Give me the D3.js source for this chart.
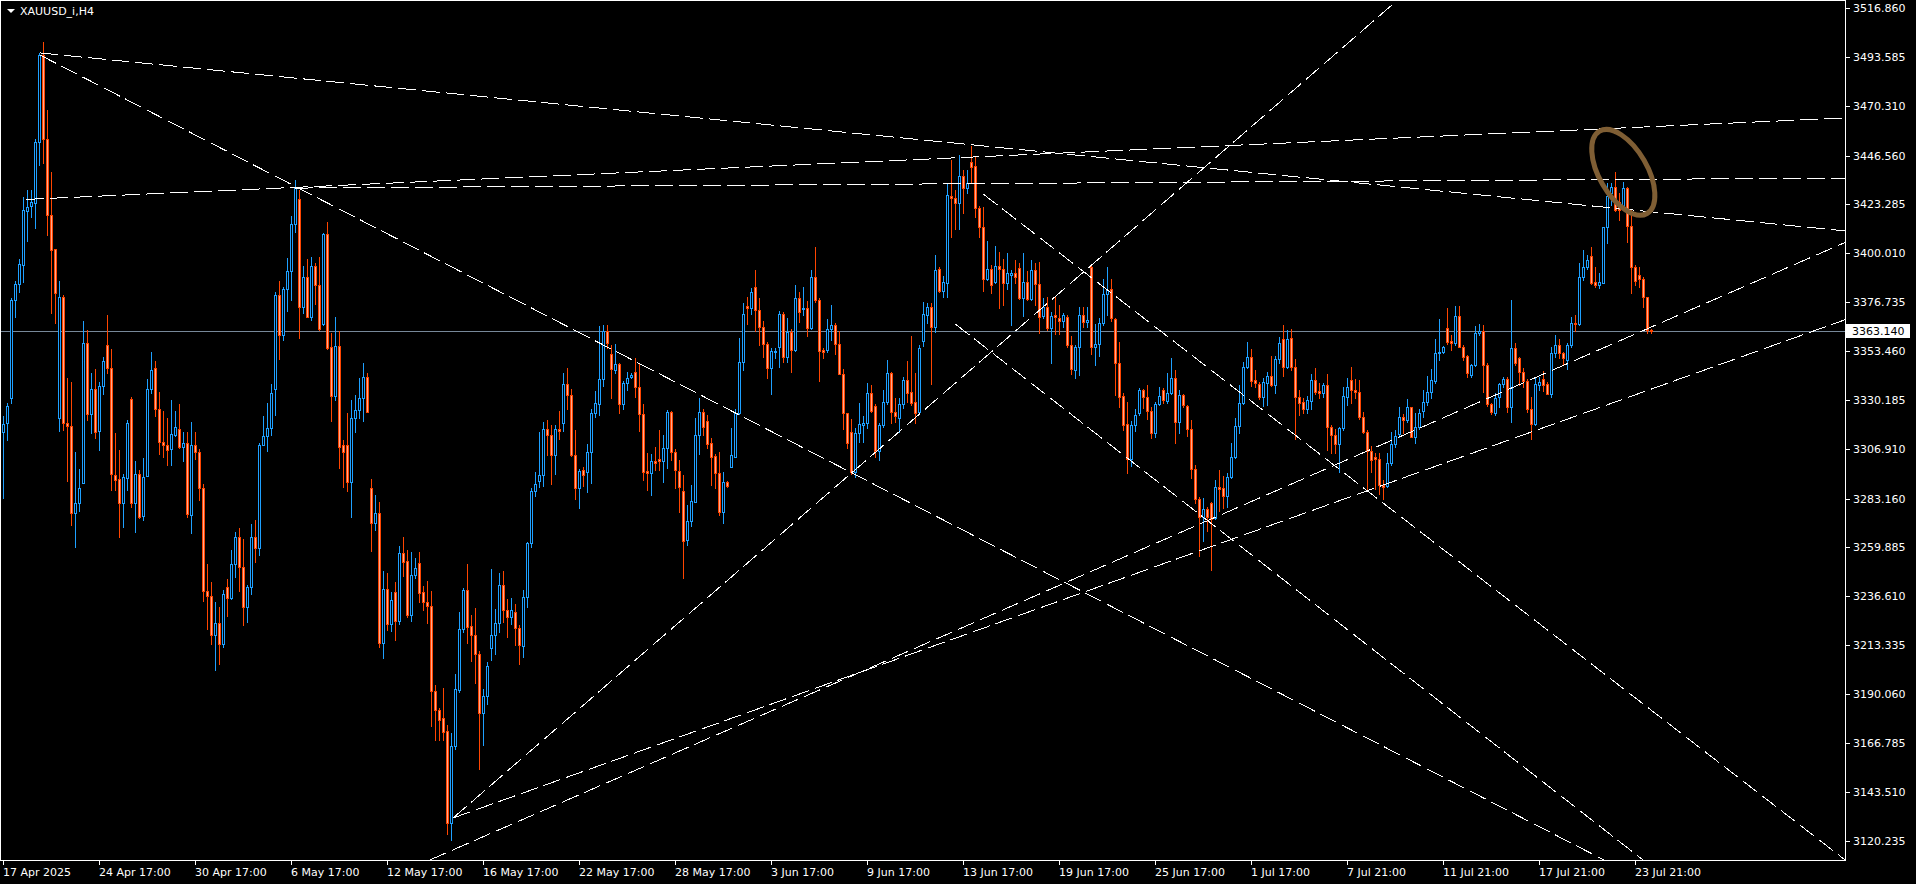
<!DOCTYPE html>
<html><head><meta charset="utf-8">
<script src="https://cdn.jsdelivr.net/npm/d3@7"></script>
<style>
html,body{margin:0;padding:0;background:#000;overflow:hidden}
svg{display:block}
</style></head><body>
<svg id="chart" width="1916" height="884"></svg>
<script>
const symbolTitle = "XAUUSD_i,H4";
const bidPrice = 3363.140;

const opens = [
3315.0,3319.4,3331.4,3377.8,3385.4,3394.8,3420.5,3422.7,3424.1,3453.3,
3494.8,3454.9,3418.7,3402.3,3321.9,3379.2,3319.4,3317.8,3276.3,3281.5,
3290.9,3357.5,3323.9,3335.4,3315.4,3336.8,3356.5,3345.8,3294.7,3292.7,
3281.1,3293.3,3330.8,3281.5,3295.3,3274.9,3293.9,3335.6,3345.4,3325.9,
3310.1,3309.1,3307.1,3313.5,3316.6,3307.9,3309.9,3275.5,3309.1,3305.6,
3288.2,3239.2,3236.8,3218.6,3224.0,3214.3,3241.1,3236.0,3252.1,3265.3,
3250.7,3231.7,3241.2,3264.9,3259.8,3308.9,3313.3,3317.2,3335.8,3380.6,
3361.2,3383.1,3392.0,3414.1,3425.9,3374.6,3388.9,3370.1,3394.1,3385.2,
3366.6,3409.4,3355.6,3332.1,3356.2,3308.7,3308.7,3291.2,3321.7,3325.7,
3331.2,3341.2,3288.5,3271.9,3276.3,3214.7,3240.3,3223.4,3239.1,3225.1,
3257.3,3253.4,3227.7,3247.2,3252.5,3239.1,3234.0,3232.2,3191.7,3182.6,
3178.7,3172.8,3128.9,3165.3,3192.0,3221.2,3239.9,3222.7,3218.2,3209.2,
3181.0,3189.5,3212.0,3218.2,3224.0,3242.0,3230.2,3226.8,3229.2,3221.5,
3213.3,3236.3,3262.0,3286.8,3291.6,3294.5,3316.3,3313.5,3304.0,3316.3,
3319.6,3337.9,3332.6,3304.3,3288.3,3297.0,3295.8,3305.5,3324.0,3328.6,
3340.4,3363.1,3352.2,3344.5,3347.3,3328.6,3338.5,3341.2,3343.7,3336.3,
3323.5,3296.5,3295.4,3301.3,3302.2,3301.4,3307.3,3324.5,3305.4,3296.7,
3287.0,3263.6,3272.7,3281.9,3313.7,3324.5,3320.3,3309.7,3303.7,3295.4,
3276.8,3291.1,3298.6,3303.4,3324.0,3348.3,3375.1,3374.3,3384.0,3373.2,
3365.3,3356.9,3345.8,3353.1,3355.8,3371.2,3351.0,3362.9,3354.2,3379.1,
3373.5,3374.0,3364.5,3388.8,3378.0,3354.2,3354.2,3364.2,3366.1,3356.9,
3342.6,3324.0,3315.3,3295.9,3314.8,3318.4,3319.2,3333.5,3327.5,3306.2,
3318.4,3329.6,3343.4,3324.8,3321.6,3328.5,3339.9,3334.0,3329.2,3324.8,
3358.6,3370.8,3374.8,3365.3,3392.6,3382.4,3386.2,3427.5,3426.4,3424.4,
3437.2,3431.2,3443.6,3441.8,3421.7,3412.6,3388.0,3392.6,3386.7,3394.2,
3392.6,3385.9,3390.1,3390.7,3393.1,3378.8,3386.4,3378.3,3392.3,3385.6,
3370.5,3374.5,3364.5,3370.9,3369.3,3368.2,3369.7,3356.6,3344.6,3355.7,
3370.8,3367.7,3393.6,3355.4,3356.9,3366.9,3380.8,3383.1,3368.8,3347.8,
3332.2,3318.9,3302.1,3318.4,3324.3,3335.1,3331.6,3325.3,3314.5,3328.4,
3335.1,3330.0,3333.8,3340.7,3320.0,3332.7,3327.5,3316.4,3297.3,3283.0,
3274.5,3278.3,3281.4,3274.0,3289.1,3288.3,3284.6,3293.8,3303.0,3318.0,
3328.8,3346.2,3350.7,3339.9,3338.0,3331.9,3338.6,3341.8,3337.5,3349.7,
3359.2,3345.9,3359.7,3345.9,3331.6,3329.2,3325.9,3330.0,3339.9,3334.8,
3333.8,3337.5,3317.3,3313.7,3309.4,3316.9,3331.9,3339.9,3335.1,3334.3,
3322.1,3315.3,3306.2,3303.0,3302.1,3289.9,3289.4,3300.2,3309.4,3314.1,
3322.1,3320.8,3326.9,3312.9,3317.3,3325.3,3329.6,3334.3,3339.6,3352.6,
3353.4,3364.5,3358.6,3357.7,3370.4,3355.8,3351.3,3342.3,3347.0,3362.1,
3363.4,3347.0,3328.4,3324.0,3331.6,3338.0,3340.2,3326.9,3355.0,3350.2,
3343.8,3339.6,3325.9,3318.9,3337.5,3340.4,3338.0,3333.2,3352.6,3356.5,
3352.6,3349.4,3356.5,3366.9,3366.6,3388.8,3393.5,3398.9,3386.6,3385.1,
3386.2,3412.6,3429.1,3431.7,3424.8,3421.2,3431.2,3413.2,3393.5,3389.9,
3387.8,3379.3,3363.5];

const highs = [
3322.9,3328.9,3379.0,3387.1,3397.6,3427.0,3430.6,3430.6,3454.9,3495.8,
3500.7,3468.5,3438.9,3402.3,3387.1,3380.2,3340.7,3339.1,3305.8,3297.3,
3368.0,3363.6,3343.1,3345.1,3338.7,3350.6,3370.7,3354.5,3314.6,3306.6,
3295.3,3321.0,3332.0,3301.2,3296.9,3302.8,3340.3,3353.2,3349.0,3334.2,
3325.3,3322.0,3330.2,3325.3,3328.5,3315.0,3315.0,3319.8,3315.0,3307.1,
3290.4,3252.2,3243.6,3234.1,3231.7,3239.9,3244.9,3258.9,3267.4,3269.3,
3264.3,3242.0,3271.3,3273.0,3309.8,3322.8,3329.0,3338.1,3381.7,3386.8,
3384.1,3398.0,3418.2,3435.2,3430.6,3394.1,3397.6,3398.6,3395.5,3398.6,
3410.0,3415.1,3362.4,3369.7,3363.1,3311.4,3324.2,3330.4,3332.5,3340.7,
3348.0,3343.2,3292.6,3285.0,3281.7,3248.8,3247.8,3239.1,3243.6,3261.0,
3265.3,3258.7,3258.1,3255.0,3257.7,3241.6,3244.0,3239.2,3194.5,3183.8,
3193.2,3175.6,3171.8,3199.7,3229.2,3241.0,3252.2,3228.1,3231.4,3210.9,
3192.8,3205.6,3249.9,3230.9,3247.8,3248.9,3235.5,3236.0,3233.0,3223.2,
3239.6,3262.5,3288.3,3296.1,3315.2,3319.9,3320.7,3318.3,3318.3,3325.2,
3343.4,3345.7,3335.8,3316.2,3297.5,3298.6,3309.3,3326.2,3334.7,3365.5,
3365.9,3365.9,3356.5,3356.8,3347.8,3339.6,3343.7,3343.2,3350.3,3347.8,
3328.4,3304.9,3304.5,3308.1,3316.1,3313.7,3325.6,3325.3,3307.0,3301.8,
3294.6,3280.3,3289.9,3321.9,3331.1,3326.1,3323.2,3312.4,3304.5,3305.7,
3296.2,3291.8,3317.2,3326.1,3359.7,3376.7,3379.2,3383.5,3392.3,3378.8,
3368.0,3357.8,3355.0,3355.3,3372.8,3372.4,3369.6,3364.2,3385.1,3382.0,
3384.3,3377.5,3392.3,3403.0,3379.1,3355.3,3369.0,3375.6,3366.9,3363.2,
3345.1,3324.0,3321.1,3316.9,3328.8,3322.7,3338.3,3337.5,3328.4,3319.6,
3335.1,3349.4,3343.9,3331.2,3331.2,3341.2,3349.1,3360.8,3343.1,3356.6,
3377.2,3376.4,3376.4,3399.4,3393.6,3389.4,3433.6,3444.7,3430.4,3447.1,
3439.9,3439.9,3451.4,3446.3,3422.8,3422.5,3406.1,3394.7,3403.7,3401.0,
3397.4,3400.2,3392.3,3397.1,3395.5,3400.2,3391.9,3397.1,3395.8,3396.3,
3378.8,3379.6,3372.4,3379.9,3375.6,3372.0,3370.9,3360.8,3356.5,3374.8,
3374.8,3374.5,3395.1,3366.5,3369.2,3387.8,3393.9,3387.8,3369.2,3358.1,
3333.8,3329.5,3320.5,3325.9,3335.9,3335.4,3337.5,3327.2,3329.5,3336.4,
3335.9,3343.0,3350.2,3344.6,3335.1,3333.2,3328.0,3320.8,3299.4,3284.3,
3283.5,3279.2,3281.9,3292.0,3297.0,3294.1,3295.4,3309.7,3321.6,3337.5,
3348.6,3358.1,3354.5,3344.6,3339.1,3340.7,3343.8,3351.3,3351.3,3360.2,
3366.1,3363.7,3364.0,3350.0,3335.1,3331.1,3332.2,3342.7,3345.4,3338.3,
3338.3,3342.7,3318.4,3316.4,3317.3,3336.4,3340.7,3346.2,3340.2,3339.9,
3324.8,3316.1,3308.4,3305.2,3304.9,3292.2,3305.2,3315.3,3316.1,3326.9,
3323.7,3330.7,3327.2,3324.0,3325.9,3335.1,3341.8,3344.9,3359.3,3368.8,
3356.1,3374.0,3361.3,3375.1,3375.1,3356.5,3351.8,3347.5,3365.6,3366.6,
3366.1,3347.8,3328.8,3333.8,3338.6,3341.2,3341.2,3378.0,3357.7,3350.7,
3345.4,3340.2,3331.9,3341.2,3341.2,3344.3,3339.1,3355.8,3361.3,3359.2,
3353.4,3357.7,3370.0,3370.8,3395.5,3401.8,3399.4,3403.1,3393.6,3390.7,
3412.9,3433.6,3433.6,3439.1,3429.1,3434.4,3432.0,3420.9,3394.7,3393.9,
3389.1,3379.6,3364.3];

const lows = [
3283.8,3311.1,3328.9,3369.8,3381.8,3386.5,3405.9,3417.4,3412.2,3442.4,
3443.4,3408.9,3371.9,3366.8,3315.6,3316.0,3291.9,3271.0,3260.1,3277.5,
3290.9,3321.0,3314.6,3312.1,3306.7,3333.2,3343.1,3287.4,3287.4,3265.3,
3270.0,3287.4,3279.5,3267.6,3274.2,3273.1,3293.9,3333.6,3322.9,3304.8,
3303.2,3299.6,3299.6,3313.1,3307.6,3301.2,3274.6,3267.2,3302.2,3282.9,
3234.5,3221.4,3214.3,3201.5,3204.8,3212.6,3227.5,3235.4,3246.1,3239.5,
3223.0,3224.4,3237.9,3253.0,3256.7,3308.9,3306.0,3313.9,3323.4,3350.0,
3358.7,3372.8,3377.9,3410.4,3360.0,3371.7,3369.7,3368.6,3376.3,3363.9,
3366.2,3354.8,3320.1,3330.4,3297.8,3288.7,3287.0,3274.6,3315.1,3321.7,
3320.5,3324.6,3258.5,3268.4,3212.6,3207.5,3220.9,3220.5,3215.8,3223.4,
3246.7,3227.1,3225.1,3245.7,3234.3,3230.2,3224.2,3174.8,3168.2,3168.2,
3168.2,3123.6,3120.6,3164.1,3191.2,3219.9,3214.6,3205.9,3195.3,3154.3,
3165.8,3185.4,3206.3,3209.2,3219.9,3224.8,3217.4,3223.7,3213.8,3204.8,
3208.1,3231.9,3260.4,3284.7,3288.8,3289.3,3304.0,3290.4,3295.3,3311.7,
3315.8,3326.0,3303.5,3283.0,3278.9,3289.3,3286.6,3290.9,3322.4,3323.2,
3336.8,3355.2,3331.4,3343.4,3324.0,3326.2,3335.2,3340.8,3331.7,3315.8,
3292.2,3287.5,3285.1,3297.0,3297.0,3291.4,3297.8,3301.8,3288.6,3277.2,
3245.4,3261.3,3270.5,3281.9,3304.5,3313.7,3307.6,3289.9,3288.3,3275.6,
3271.6,3289.1,3298.3,3303.4,3323.5,3344.6,3366.4,3371.2,3363.2,3356.6,
3351.0,3341.0,3333.0,3350.5,3346.2,3348.3,3348.6,3343.9,3353.9,3367.7,
3370.8,3361.0,3364.2,3377.2,3339.4,3350.5,3353.1,3358.9,3352.1,3342.6,
3316.5,3307.3,3294.9,3293.8,3310.5,3310.5,3316.9,3324.8,3303.0,3301.8,
3317.6,3328.5,3319.6,3320.0,3315.3,3326.4,3329.6,3328.0,3319.2,3323.7,
3356.1,3367.2,3338.0,3362.9,3382.0,3379.6,3379.6,3408.2,3411.7,3411.7,
3419.3,3428.8,3433.6,3417.7,3407.9,3382.4,3387.5,3381.2,3386.0,3374.0,
3375.6,3383.1,3366.1,3386.3,3378.3,3370.4,3378.0,3378.0,3375.6,3362.4,
3369.3,3363.7,3347.8,3361.8,3361.8,3365.3,3355.8,3342.7,3340.7,3342.3,
3365.0,3365.0,3352.3,3347.0,3351.3,3366.1,3370.8,3368.1,3332.7,3327.2,
3316.0,3295.4,3298.9,3315.7,3323.2,3326.4,3321.1,3312.1,3312.6,3328.0,
3329.1,3329.1,3333.2,3310.0,3314.5,3327.2,3313.2,3293.0,3281.4,3256.0,
3263.3,3268.1,3249.4,3273.5,3277.6,3278.7,3279.5,3293.0,3302.6,3314.5,
3328.4,3345.4,3337.0,3336.7,3330.7,3327.5,3328.0,3337.0,3333.8,3348.1,
3341.8,3345.4,3344.6,3311.6,3323.2,3324.0,3324.0,3325.9,3333.2,3331.1,
3331.9,3306.5,3305.3,3305.3,3296.2,3316.1,3328.0,3328.8,3331.1,3321.1,
3314.5,3287.8,3296.2,3287.8,3285.6,3283.0,3288.7,3299.4,3307.8,3312.9,
3314.8,3320.0,3312.6,3310.0,3316.4,3322.1,3328.0,3331.1,3338.6,3349.4,
3352.9,3357.0,3354.2,3356.5,3355.4,3349.4,3341.1,3341.1,3346.5,3361.3,
3334.3,3327.5,3323.7,3323.2,3326.9,3336.7,3324.8,3320.0,3347.0,3337.5,
3336.7,3324.8,3311.6,3318.4,3335.1,3334.8,3333.2,3331.9,3350.7,3350.2,
3347.5,3345.0,3355.8,3363.4,3366.1,3387.5,3392.6,3385.6,3384.3,3383.5,
3385.9,3405.0,3423.2,3420.5,3416.1,3420.9,3405.8,3381.5,3385.1,3384.3,
3374.5,3362.1,3362.1];

const closes = [
3319.0,3327.3,3377.8,3385.4,3395.0,3420.7,3422.3,3424.7,3453.3,3494.8,
3454.9,3418.7,3401.9,3381.2,3379.2,3319.4,3317.8,3276.3,3281.5,3288.2,
3357.5,3323.9,3335.8,3315.0,3336.8,3349.0,3345.4,3294.9,3292.3,3281.1,
3293.7,3319.4,3281.5,3295.3,3274.6,3293.7,3335.6,3344.7,3325.9,3310.1,
3308.9,3306.7,3314.0,3317.4,3308.1,3309.9,3275.9,3308.7,3305.6,3288.6,
3239.2,3236.8,3218.6,3224.2,3214.3,3237.9,3236.0,3252.1,3265.3,3250.7,
3231.7,3241.2,3264.9,3259.8,3308.9,3313.3,3317.2,3333.9,3380.2,3361.2,
3383.1,3392.0,3414.1,3431.2,3374.8,3388.9,3370.1,3394.1,3385.2,3364.1,
3409.4,3355.2,3332.1,3356.2,3308.1,3305.6,3291.2,3321.7,3325.7,3331.2,
3341.2,3324.8,3271.9,3276.3,3214.7,3240.3,3223.4,3235.0,3225.1,3257.3,
3253.2,3227.7,3247.2,3250.3,3238.5,3233.9,3232.0,3191.7,3182.6,3177.7,
3172.3,3128.9,3165.4,3192.5,3221.2,3239.9,3222.0,3218.2,3209.2,3181.0,
3189.5,3203.5,3218.2,3224.0,3242.0,3230.2,3226.8,3230.2,3221.5,3213.8,
3236.3,3262.0,3286.8,3290.1,3294.5,3316.3,3313.9,3304.0,3316.3,3315.5,
3337.9,3332.6,3304.3,3288.3,3296.5,3294.8,3305.5,3324.0,3328.9,3340.4,
3363.1,3357.6,3345.0,3347.3,3328.6,3338.5,3340.9,3342.4,3336.3,3323.6,
3296.2,3295.4,3301.4,3300.5,3301.4,3307.3,3324.5,3305.4,3297.0,3288.7,
3263.3,3272.7,3282.2,3313.7,3324.5,3317.6,3309.4,3303.4,3295.4,3276.8,
3291.1,3289.4,3304.2,3324.0,3348.3,3371.2,3374.3,3381.6,3373.2,3365.3,
3356.9,3345.8,3353.7,3353.7,3371.2,3351.0,3362.9,3354.2,3379.1,3372.4,
3374.3,3364.5,3389.1,3378.0,3353.7,3353.1,3364.2,3366.1,3356.9,3342.6,
3324.0,3309.7,3295.9,3314.8,3318.8,3319.2,3333.5,3325.3,3306.2,3318.4,
3329.6,3343.4,3324.8,3322.7,3328.3,3339.9,3333.5,3329.1,3324.3,3355.0,
3371.3,3374.5,3365.3,3392.3,3382.4,3386.7,3428.0,3426.4,3424.4,3437.2,
3431.2,3433.6,3441.5,3421.7,3412.6,3388.0,3392.6,3385.2,3394.2,3392.6,
3385.9,3390.7,3390.7,3388.8,3378.8,3386.7,3378.3,3392.3,3385.6,3369.7,
3374.5,3364.5,3370.5,3369.7,3368.2,3370.9,3356.6,3345.0,3355.7,3370.8,
3367.7,3368.5,3355.4,3356.9,3366.9,3380.8,3382.7,3369.2,3347.8,3331.9,
3318.4,3302.1,3318.4,3323.2,3335.1,3331.6,3325.3,3314.8,3328.4,3332.2,
3330.3,3333.8,3340.7,3320.0,3332.7,3328.0,3316.4,3297.3,3283.0,3274.5,
3278.3,3274.5,3273.5,3289.1,3287.8,3284.6,3293.8,3303.0,3318.0,3328.8,
3346.2,3351.0,3339.6,3338.6,3331.9,3338.9,3341.8,3337.5,3349.7,3357.3,
3345.9,3359.2,3345.9,3331.9,3329.1,3325.9,3330.3,3339.9,3334.3,3333.8,
3337.5,3317.3,3313.7,3309.4,3316.9,3332.3,3336.4,3335.1,3334.3,3322.1,
3315.3,3306.2,3301.7,3302.1,3289.9,3289.1,3300.2,3309.4,3313.4,3322.1,
3320.8,3326.9,3312.9,3317.3,3324.0,3329.6,3334.3,3339.9,3352.6,3353.4,
3355.4,3358.1,3357.7,3370.4,3355.8,3351.0,3343.4,3347.0,3362.1,3363.4,
3347.0,3328.4,3324.8,3331.1,3338.0,3340.2,3326.9,3355.0,3347.8,3343.8,
3339.6,3325.9,3318.9,3338.0,3339.1,3337.5,3333.2,3352.6,3356.5,3352.6,
3350.2,3356.5,3366.9,3366.6,3388.8,3393.9,3397.0,3386.2,3385.1,3386.6,
3412.6,3427.5,3431.7,3420.9,3420.9,3431.2,3413.2,3393.5,3387.2,3387.8,
3379.3,3363.7,3363.14];

const priceTicks = [3516.860,3493.585,3470.310,3446.560,3423.285,3400.010,3376.735,3353.460,
  3330.185,3306.910,3283.160,3259.885,3236.610,3213.335,3190.060,3166.785,3143.510,3120.235];

const timeLabels = ["17 Apr 2025","24 Apr 17:00","30 Apr 17:00","6 May 17:00","12 May 17:00",
  "16 May 17:00","22 May 17:00","28 May 17:00","3 Jun 17:00","9 Jun 17:00","13 Jun 17:00",
  "19 Jun 17:00","25 Jun 17:00","1 Jul 17:00","7 Jul 21:00","11 Jul 21:00","17 Jul 21:00","23 Jul 21:00"];
const timeLabelBars = [0,24,48,72,96,120,144,168,192,216,240,264,288,312,336,360,384,408];

// trend lines: [startBar, startPrice, throughBar, throughPrice] (rays to the right)
const trendLines = [
  [9.1, 3495.7, 460.4, 3410.9],
  [9.1, 3494.7, 212.1, 3295.6],
  [5.6, 3425.9, 460.4, 3464.7],
  [72.9, 3431.3, 460.4, 3436.1],
  [112.4, 3131.2, 269.1, 3389.8],
  [112.4, 3131.2, 460.4, 3368.6],
  [106.6, 3111.2, 460.4, 3405.4],
  [244.9, 3428.5, 460.4, 3111.2],
  [237.9, 3366.6, 409.9, 3111.2]
];
const markEllipse = [404.95, 3438.8];

// ---- drawing ----
const W = 1916, H = 884, plotR = 1845, plotB = 860;
const bullLine = "#1EA0FF", bullFill = "#000000", bearLine = "#FF4500", bearFill = "#FFA98F";
const FONT = "'DejaVu Sans', sans-serif";

const svg = d3.select("#chart");
svg.append("rect").attr("width", W).attr("height", H).attr("fill", "#000");
svg.append("defs").append("clipPath").attr("id", "plot")
  .append("rect").attr("x", 0).attr("y", 0).attr("width", plotR).attr("height", plotB);

const x = d3.scaleLinear().domain([0, 412]).range([3.5, 1651.5]);
const y = d3.scaleLinear().domain([3120.235, 3516.860]).range([841, 8.5]);
const py = v => Math.round(y(v));

// bid line
const yb = py(bidPrice);
svg.append("line").attr("x1", 0).attr("x2", plotR).attr("y1", yb + 0.5).attr("y2", yb + 0.5)
  .attr("stroke", "#778899").attr("stroke-width", 1).attr("shape-rendering", "crispEdges");

// candles
const bars = d3.range(opens.length).map(i => ({i, o: opens[i], h: highs[i], l: lows[i], c: closes[i]}));
const gC = svg.append("g").attr("clip-path", "url(#plot)").attr("shape-rendering", "crispEdges");
const lineCol = d => d.c >= d.o ? bullLine : bearLine;
gC.selectAll("rect.w").data(bars).join("rect").attr("class", "w")
  .attr("x", d => Math.floor(x(d.i))).attr("y", d => py(d.h)).attr("width", 1)
  .attr("height", d => py(d.l) - py(d.h) + 1).attr("fill", lineCol);
gC.selectAll("rect.b").data(bars).join("rect").attr("class", "b")
  .attr("x", d => Math.floor(x(d.i)) - 1).attr("y", d => Math.min(py(d.o), py(d.c))).attr("width", 3)
  .attr("height", d => Math.abs(py(d.o) - py(d.c)) + 1).attr("fill", lineCol);
gC.selectAll("rect.f").data(bars.filter(d => Math.abs(py(d.o) - py(d.c)) >= 2)).join("rect").attr("class", "f")
  .attr("x", d => Math.floor(x(d.i))).attr("y", d => Math.min(py(d.o), py(d.c)) + 1).attr("width", 1)
  .attr("height", d => Math.abs(py(d.o) - py(d.c)) - 1)
  .attr("fill", d => d.c >= d.o ? bullFill : bearFill);

// trend lines
const gL = svg.append("g").attr("clip-path", "url(#plot)");
gL.selectAll("line").data(trendLines).join("line")
  .each(function (t) {
    const X1 = x(t[0]), Y1 = y(t[1]), X2 = x(t[2]), Y2 = y(t[3]);
    const dx = X2 - X1, dy = Y2 - Y1, k = 4000 / Math.hypot(dx, dy);
    d3.select(this).attr("x1", X1).attr("y1", Y1).attr("x2", X1 + dx * k).attr("y2", Y1 + dy * k);
  })
  .attr("stroke", "#ffffff").attr("stroke-width", 1).attr("stroke-dasharray", "18,6")
  .attr("shape-rendering", "crispEdges");

// ellipse marker
const ex = x(markEllipse[0]), ey = y(markEllipse[1]);
svg.append("ellipse").attr("cx", ex).attr("cy", ey).attr("rx", 47.5).attr("ry", 24)
  .attr("transform", `rotate(60,${ex},${ey})`)
  .attr("fill", "none").attr("stroke", "#7f5e34").attr("stroke-width", 5);

// frame
const frame = svg.append("g").attr("stroke", "#ffffff").attr("shape-rendering", "crispEdges");
frame.append("line").attr("x1", 0.5).attr("x2", 0.5).attr("y1", 0).attr("y2", plotB + 1);
frame.append("line").attr("x1", 0).attr("x2", plotR + 1).attr("y1", 0.5).attr("y2", 0.5);
frame.append("line").attr("x1", plotR + 0.5).attr("x2", plotR + 0.5).attr("y1", 0).attr("y2", plotB + 1);
frame.append("line").attr("x1", 0).attr("x2", plotR + 1).attr("y1", plotB + 0.5).attr("y2", plotB + 0.5);

// right price axis
const axR = d3.axisRight(y).tickValues(priceTicks).tickSize(4).tickPadding(3)
  .tickFormat(d => d.toFixed(3)).offset(0);
const gR = svg.append("g").attr("transform", `translate(${plotR + 1},0)`).call(axR);
gR.select(".domain").remove();
gR.attr("font-family", FONT).attr("font-size", 11);
gR.selectAll(".tick line").attr("stroke", "#fff").attr("shape-rendering", "crispEdges");
gR.selectAll(".tick text").attr("fill", "#fff");

// bottom time axis
const axB = d3.axisBottom(x).tickValues(timeLabelBars).tickSize(4).tickPadding(3)
  .tickFormat((d, k) => timeLabels[k]).offset(0);
const gB = svg.append("g").attr("transform", `translate(0,${plotB + 1})`).call(axB);
gB.select(".domain").remove();
gB.attr("font-family", FONT).attr("font-size", 11);
gB.selectAll(".tick line").attr("stroke", "#fff").attr("shape-rendering", "crispEdges");
gB.selectAll(".tick text").attr("fill", "#fff").attr("text-anchor", "start").attr("x", -0.5);

// bid price label
svg.append("rect").attr("x", plotR + 1).attr("y", yb - 7).attr("width", 64).attr("height", 14).attr("fill", "#fff");
svg.append("text").attr("x", plotR + 7).attr("y", yb + 4).attr("fill", "#000")
  .attr("font-family", FONT).attr("font-size", 11).text(bidPrice.toFixed(3));

// title
svg.append("path").attr("d", "M7,9 L15,9 L11,13 Z").attr("fill", "#fff");
svg.append("text").attr("x", 20).attr("y", 15).attr("fill", "#fff")
  .attr("font-family", FONT).attr("font-size", 11).text(symbolTitle);
</script>
</body></html>
